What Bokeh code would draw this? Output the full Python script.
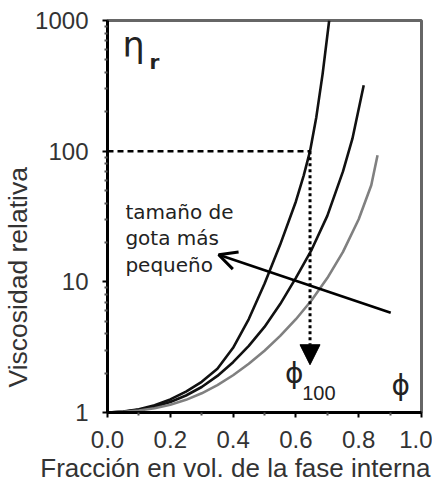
from bokeh.plotting import figure
from bokeh.models import Range1d, FixedTicker, Label, Arrow, NormalHead, OpenHead, PrintfTickFormatter, Title
from bokeh.embed import file_html
from bokeh.resources import INLINE

# ---- data ----
phi_a = [0, 0.05, 0.1, 0.15, 0.2, 0.25, 0.3, 0.35, 0.4, 0.45, 0.5, 0.55, 0.6, 0.625, 0.645, 0.665, 0.685, 0.706]
eta_a = [1.0, 1.019, 1.059, 1.135, 1.259, 1.445, 1.718, 2.163, 3.126, 5.188, 9.66, 19.28, 41.2, 65.3, 100, 182, 389, 1000]

phi_b = [0, 0.05, 0.1, 0.15, 0.2, 0.25, 0.3, 0.35, 0.4, 0.45, 0.5, 0.55, 0.6, 0.65, 0.7, 0.75, 0.78, 0.816]
eta_b = [1.0, 1.014, 1.047, 1.109, 1.202, 1.349, 1.567, 1.905, 2.427, 3.236, 4.519, 6.761, 10.72, 17.58, 31.99, 69.98, 124.5, 319.9]

phi_c = [0, 0.05, 0.1, 0.15, 0.2, 0.25, 0.3, 0.35, 0.4, 0.45, 0.5, 0.55, 0.6, 0.65, 0.7, 0.75, 0.8, 0.84, 0.86]
eta_c = [1.0, 1.012, 1.035, 1.079, 1.148, 1.250, 1.403, 1.622, 1.928, 2.360, 2.972, 3.855, 5.176, 7.228, 10.69, 16.94, 30.13, 54.83, 93.1]

phi100 = 0.645
eta100 = 100
phi100_arrow_end = 2.32

x_ticks = [0.0, 0.2, 0.4, 0.6, 0.8, 1.0]
x_minor = [0.1, 0.3, 0.5, 0.7, 0.9]
y_ticks = [1, 10, 100, 1000]
y_minor = [m * d for d in (1, 10, 100) for m in range(2, 10)]

annot_lines = ["tamaño de", "gota más", "pequeño"]
x_label = "Fracción en vol. de la fase interna"
y_label = "Viscosidad relativa"

# ---- figure ----
p = figure(width=432, height=482, x_range=Range1d(0, 1), y_range=Range1d(1, 1000),
           y_axis_type="log", output_backend="svg", toolbar_location=None,
           min_border_left=105, min_border_right=11, min_border_top=20, min_border_bottom=69)
p.grid.visible = False
p.outline_line_color = "#666666"
p.outline_line_width = 3
p.background_fill_color = "white"
p.border_fill_color = "white"

for ax in (p.xaxis[0], p.yaxis[0]):
    ax.axis_line_color = "black"
    ax.axis_line_width = 3
    ax.major_tick_line_color = "black"
    ax.major_tick_line_width = 2
    ax.major_tick_in = 0
    ax.major_tick_out = 5
    ax.minor_tick_line_color = "#555555"
    ax.minor_tick_line_width = 2
    ax.minor_tick_in = 0
    ax.minor_tick_out = 3
    ax.major_label_text_font = "Liberation Sans"
    ax.major_label_text_font_size = "24px"
    ax.major_label_text_color = "#333333"

p.xaxis.ticker = FixedTicker(ticks=x_ticks, minor_ticks=x_minor)
p.xaxis.formatter = PrintfTickFormatter(format="%.1f")
p.xaxis.major_label_standoff = 13
p.yaxis.ticker = FixedTicker(ticks=y_ticks, minor_ticks=y_minor)
p.yaxis.formatter = PrintfTickFormatter(format="%d")
p.yaxis.major_label_standoff = 14

# axis titles (offset like the reference)
p.add_layout(Title(text=x_label, align="right", offset=-9, standoff=0,
                   text_font="Liberation Sans", text_font_size="26px", text_font_style="normal",
                   text_color="#333333"), "below")
p.add_layout(Title(text=y_label, align="left", offset=25, standoff=0,
                   text_font="Liberation Sans", text_font_size="26.5px", text_font_style="normal",
                   text_color="#333333"), "left")

# curves
p.line(phi_a, eta_a, line_color="#111111", line_width=2.6)
p.line(phi_b, eta_b, line_color="#111111", line_width=2.6)
p.line(phi_c, eta_c, line_color="#808080", line_width=2.6)

# dashed horizontal at eta=100 and dotted arrow down
p.line([0, phi100], [eta100, eta100], line_color="black", line_width=2.5, line_dash="6 4")
p.add_layout(Arrow(end=NormalHead(size=20, fill_color="black", line_color="black"),
                   x_start=phi100, y_start=eta100, x_end=phi100, y_end=phi100_arrow_end,
                   line_color="black", line_width=3, line_dash="3 3"))

# arrow "smaller drop size"
p.add_layout(Arrow(end=OpenHead(size=18, line_color="black", line_width=3),
                   x_start=0.902, y_start=5.8, x_end=0.354, y_end=16.1,
                   line_color="black", line_width=2.6))

# annotation text
for t, yv in zip(annot_lines, [34.2, 21.7, 13.5]):
    p.add_layout(Label(x=0.057, y=yv, text=t, text_font="DejaVu Sans", text_font_size="20px",
                       text_baseline="middle", text_color="#222222"))

# eta_r
p.add_layout(Label(x=0.048, y=645, text="η", text_font="DejaVu Sans", text_font_size="35px",
                   text_baseline="middle", text_color="#222222"))
p.add_layout(Label(x=0.134, y=480, text="r", text_font="DejaVu Sans", text_font_size="20px",
                   text_font_style="bold", text_baseline="middle", text_color="#222222"))

# phi_100 and phi
p.add_layout(Label(x=0.565, y=1.99, text="ϕ", text_font="DejaVu Sans", text_font_size="28px",
                   text_baseline="middle", text_color="#222222"))
p.add_layout(Label(x=0.62, y=1.42, text="100", text_font="Liberation Sans", text_font_size="20px",
                   text_baseline="middle", text_color="#222222"))
p.add_layout(Label(x=0.934, y=1.61, text="ϕ", text_font="DejaVu Sans", text_font_size="28px",
                   text_baseline="middle", text_align="center", text_color="#222222"))

open("out.html", "w").write(file_html(p, INLINE))
